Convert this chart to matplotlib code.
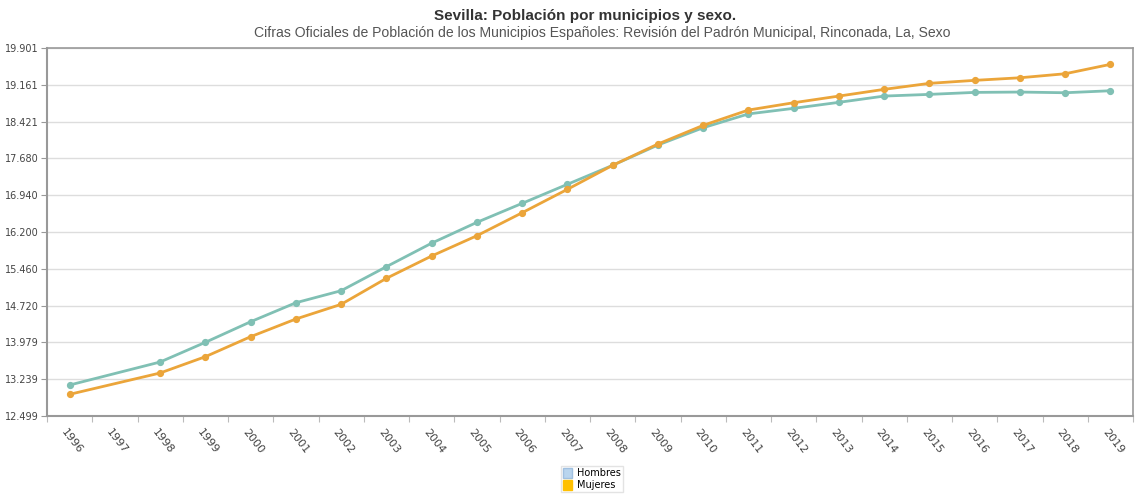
import matplotlib
matplotlib.use("Agg")
import matplotlib.pyplot as plt
from matplotlib.patches import Patch

categories = [str(y) for y in range(1996, 2020)]
data_years = ["1996", "1998", "1999", "2000", "2001", "2002", "2003", "2004", "2005",
              "2006", "2007", "2008", "2009", "2010", "2011", "2012", "2013", "2014",
              "2015", "2016", "2017", "2018", "2019"]
hombres = [13122, 13585, 13981, 14395, 14777, 15019, 15502, 15975, 16394, 16776,
           17159, 17541, 17949, 18297, 18575, 18687, 18808, 18934, 18968, 19008,
           19015, 19001, 19041]
mujeres = [12935, 13364, 13692, 14094, 14450, 14745, 15268, 15717, 16125, 16587,
           17058, 17541, 17969, 18345, 18653, 18800, 18934, 19069, 19190, 19250,
           19302, 19383, 19572]
yticks = [12499, 13239, 13979, 14720, 15460, 16200, 16940, 17680, 18421, 19161, 19901]
ytick_labels = ["12.499", "13.239", "13.979", "14.720", "15.460", "16.200",
                "16.940", "17.680", "18.421", "19.161", "19.901"]
title = "Sevilla: Población por municipios y sexo."
subtitle = ("Cifras Oficiales de Población de los Municipios Españoles: Revisión del "
            "Padrón Municipal, Rinconada, La, Sexo")

fig = plt.figure(figsize=(11.35, 4.95), dpi=100)
ax = fig.add_axes([47/1135, 1-416/495, (1133-47)/1135, (416-48)/495])

xpos = [categories.index(y) for y in data_years]
ax.plot(xpos, hombres, color="#80c0b4", lw=2, marker="o", ms=4.2, zorder=3)
ax.plot(xpos, mujeres, color="#eba53a", lw=2, marker="o", ms=4.2, zorder=4)

ax.set_xlim(-0.5, len(categories) - 0.5)
ax.set_ylim(yticks[0], yticks[-1])
ax.set_yticks(yticks)
ax.set_yticklabels(ytick_labels, fontsize=7, color="#444444", family="DejaVu Sans")
ax.yaxis.grid(True, color="#dddddd", lw=1)
ax.set_axisbelow(True)
ax.tick_params(axis="y", length=4, color="#999999", pad=2)

ax.set_xticks([i - 0.5 for i in range(len(categories) + 1)], minor=False)
ax.set_xticklabels([])
ax.tick_params(axis="x", which="major", length=4, color="#bbbbbb", direction="out")
for i, c in enumerate(categories):
    ax.text(i - 0.05, yticks[0] - 230, c, rotation=-52, ha="left", va="top",
            fontsize=8, color="#444444", family="DejaVu Sans",
            rotation_mode="anchor")

for s in ["top", "right"]:
    ax.spines[s].set_color("#999999")
    ax.spines[s].set_linewidth(1.2)
ax.spines["left"].set_color("#999999")
ax.spines["bottom"].set_color("#999999")
ax.spines["left"].set_linewidth(1.5)
ax.spines["bottom"].set_linewidth(1.5)

fig.text(585/1135, 1-16/495, title, ha="center", va="center", fontsize=11,
         fontweight="bold", color="#333333", family="Liberation Sans")
fig.text(602/1135, 1-33/495, subtitle, ha="center", va="center", fontsize=10.1,
         color="#555555", family="Liberation Sans")

handles = [Patch(facecolor="#b9d5ee", edgecolor="#a0c0e0", label="Hombres"),
           Patch(facecolor="#ffc000", edgecolor="#ffc000", label="Mujeres")]
leg = fig.legend(handles=handles, loc="center", bbox_to_anchor=(592/1135, 1-479/495),
                 fontsize=7, frameon=True, handlelength=1.0, handleheight=1.2,
                 handletextpad=0.5, labelspacing=0.15, borderpad=0.2,
                 fancybox=False, edgecolor="#dddddd")

fig.savefig("out.png", dpi=100)
